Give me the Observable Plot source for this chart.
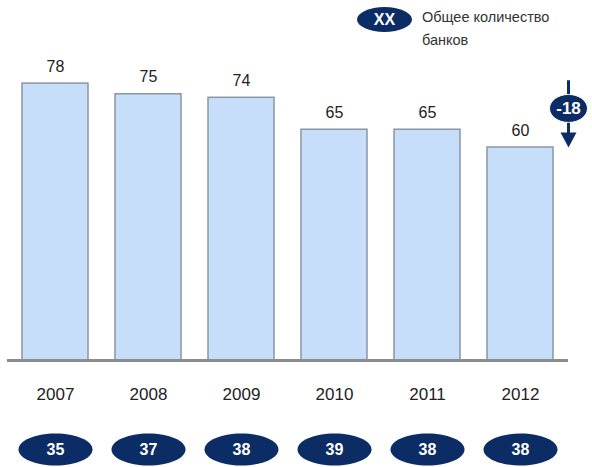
<!DOCTYPE html>
<html>
<head>
<meta charset="utf-8">
<script src="https://cdn.jsdelivr.net/npm/d3@7"></script>
<script src="https://cdn.jsdelivr.net/npm/@observablehq/plot@0.6"></script>
<style>
  html, body { margin: 0; padding: 0; background: #fff; }
  #wrap { position: relative; width: 592px; height: 467px; font-family: "Liberation Sans", Arial, sans-serif; }
  #legend { position: absolute; left: 357px; top: 7px; display: flex; align-items: flex-start; }
  #legend .oval { width: 55px; height: 25px; border-radius: 50%; background: #0c2c66; color: #fff;
    font-weight: bold; font-size: 16px; display: flex; align-items: center; justify-content: center; }
  #legend .txt { margin-left: 10px; font-size: 14.5px; line-height: 23px; color: #333; margin-top: -1px; }
  #chart { position: absolute; left: 0; top: 0; }
</style>
</head>
<body>
<div id="wrap">
  <div id="chart"></div>
  <div id="legend"><div class="oval">XX</div><div class="txt">Общее количество<br>банков</div></div>
</div>
<script>
const years = ["2007", "2008", "2009", "2010", "2011", "2012"];
const values = [78, 75, 74, 65, 65, 60];
const totalBanks = [35, 37, 38, 39, 38, 38];
const changeLabel = "-18";
const changeFrom = 78;
const changeTo = 60;

const data = years.map((y, i) => ({year: y, value: values[i], total: totalBanks[i]}));

function ellipse(rx, ry) {
  const k = 0.5523;
  return {
    draw(c) {
      c.moveTo(rx, 0);
      c.bezierCurveTo(rx, ry * k, rx * k, ry, 0, ry);
      c.bezierCurveTo(-rx * k, ry, -rx, ry * k, -rx, 0);
      c.bezierCurveTo(-rx, -ry * k, -rx * k, -ry, 0, -ry);
      c.bezierCurveTo(rx * k, -ry, rx, -ry * k, rx, 0);
      c.closePath();
    }
  };
}
const downTri = {
  draw(c) {
    c.moveTo(-8, -15);
    c.lineTo(8, -15);
    c.lineTo(0, 0);
    c.closePath();
  }
};

const navy = "#0c2c66";
const last = years[years.length - 1];
const badgeY = (changeFrom + changeTo) / 2 + 2;

const chart = Plot.plot({
  width: 592,
  height: 467,
  marginLeft: 7,
  marginRight: 24,
  marginTop: 5,
  marginBottom: 107,
  style: {fontFamily: "Liberation Sans, Arial, sans-serif", background: "transparent"},
  x: {domain: years, paddingInner: 0.29, paddingOuter: 0.155, label: null},
  y: {domain: [0, 100], axis: null},
  marks: [
    Plot.barY(data, {x: "year", y: "value", fill: "#c6defa", stroke: "#8a96a3", strokeWidth: 1.5}),
    Plot.ruleY([0], {stroke: "#8c8c8c", strokeWidth: 3}),
    Plot.text(data, {x: "year", y: "value", text: d => String(d.value), dy: -17, fontSize: 16, fill: "#222"}),
    Plot.axisX({tickSize: 0, tickPadding: 27, fontSize: 17, fill: "#222", label: null}),
    Plot.dot(data, {x: "year", y: 0, dy: 89, symbol: ellipse(37, 16), fill: navy, stroke: "none"}),
    Plot.text(data, {x: "year", y: 0, dy: 89, text: d => String(d.total), fill: "#fff", fontWeight: "bold", fontSize: 16}),
    Plot.ruleX([last], {x: d => d, y1: changeFrom + 0.8, y2: changeTo + 3, dx: 48, stroke: navy, strokeWidth: 3}),
    Plot.dot([last], {x: d => d, y: changeTo, dx: 48, symbol: downTri, fill: navy, stroke: "none"}),
    Plot.dot([last], {x: d => d, y: badgeY, dx: 48, symbol: ellipse(19, 14), fill: navy, stroke: "#fff", strokeWidth: 1}),
    Plot.text([changeLabel], {x: () => last, y: badgeY, dx: 48, text: d => d, fill: "#fff", fontWeight: "bold", fontSize: 17})
  ]
});
document.getElementById("chart").appendChild(chart);
</script>
</body>
</html>
